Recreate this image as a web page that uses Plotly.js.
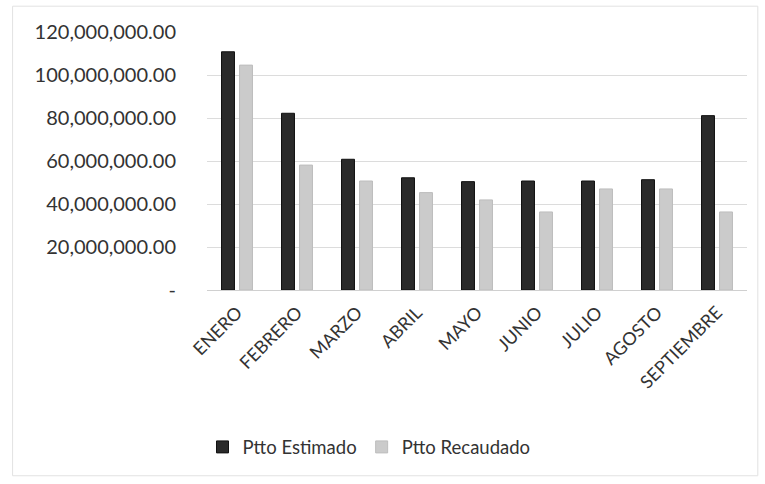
<!DOCTYPE html>
<html><head><meta charset="utf-8">
<script src="https://cdn.plot.ly/plotly-3.0.1.min.js"></script>
<style>html,body{margin:0;padding:0;background:#fff}#c{width:765px;height:484px}</style>
</head><body><div id="c"></div>
<script>
const months = ["ENERO","FEBRERO","MARZO","ABRIL","MAYO","JUNIO","JULIO","AGOSTO","SEPTIEMBRE"];
const estimado = [110800000, 82200000, 60800000, 52200000, 50400000, 50700000, 50700000, 51300000, 81100000];
const recaudado = [104600000, 58100000, 50700000, 45300000, 41900000, 36300000, 47000000, 47000000, 36300000];
const tickVals = [0, 20000000, 40000000, 60000000, 80000000, 100000000, 120000000];
const tickText = ["-", "20,000,000.00", "40,000,000.00", "60,000,000.00", "80,000,000.00", "100,000,000.00", "120,000,000.00"];

const data = [
  {type:"bar", name:"Ptto Estimado", x:months, y:estimado,
   marker:{color:"#2a2a2a", line:{color:"#111", width:1}}},
  {type:"bar", name:"Ptto Recaudado", x:months, y:recaudado,
   marker:{color:"#cbcbcb", line:{color:"#bdbdbd", width:1}}}
];
const layout = {
  width:765, height:484,
  margin:{l:207, r:18, t:32, b:194},
  paper_bgcolor:"#fff", plot_bgcolor:"#fff",
  barmode:"group", bargap:0.4, bargroupgap:0.28,
  font:{family:"Lato, 'Open Sans', sans-serif", color:"#333"},
  xaxis:{tickangle:-45, tickfont:{size:18, color:"#333"}, showline:true, linecolor:"#d0d0d0", ticks:"", automargin:false, ticklabelstandoff:4},
  yaxis:{range:[0,120000000], tickvals:tickVals, ticktext:tickText, tickfont:{size:20, color:"#333"},
         showgrid:true, gridcolor:"#dcdcdc", zeroline:false, ticks:"", ticklen:0, automargin:false, ticklabelstandoff:30},
  showlegend:true,
  legend:{orientation:"h", x:0.3, xanchor:"center", y:-0.61, yanchor:"middle", font:{size:18.5, color:"#333"}, traceorder:"normal"},
  shapes:[{type:"rect", xref:"paper", yref:"paper", x0:-0.36, x1:1.02, y0:-0.72, y1:1.1, line:{color:"#e2e2e2", width:1}}]
};
Plotly.newPlot("c", data, layout, {displayModeBar:false, staticPlot:true});
</script></body></html>
